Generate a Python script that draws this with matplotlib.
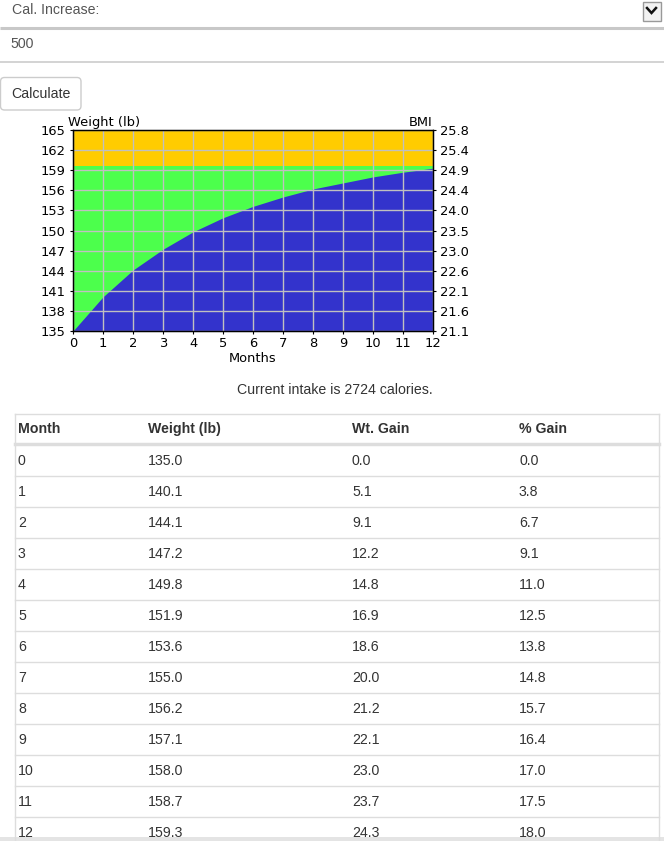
import matplotlib
matplotlib.use("Agg")
import matplotlib.pyplot as plt
from matplotlib.patches import Rectangle, FancyBboxPatch

# ---- data ----
months = [0, 1, 2, 3, 4, 5, 6, 7, 8, 9, 10, 11, 12]
weight = [135.0, 140.1, 144.1, 147.2, 149.8, 151.9, 153.6, 155.0, 156.2, 157.1, 158.0, 158.7, 159.3]
wt_gain = [0.0, 5.1, 9.1, 12.2, 14.8, 16.9, 18.6, 20.0, 21.2, 22.1, 23.0, 23.7, 24.3]
pct_gain = [0.0, 3.8, 6.7, 9.1, 11.0, 12.5, 13.8, 14.8, 15.7, 16.4, 17.0, 17.5, 18.0]
weight_ticks = [135, 138, 141, 144, 147, 150, 153, 156, 159, 162, 165]
bmi_labels = ["21.1", "21.6", "22.1", "22.6", "23.0", "23.5", "24.0", "24.4", "24.9", "25.4", "25.8"]
overweight_limit = 159.6
headers = ["Month", "Weight (lb)", "Wt. Gain", "% Gain"]
cal_increase = "500"
intake_text = "Current intake is 2724 calories."

W, H = 664, 841
fig = plt.figure(figsize=(W / 100, H / 100), dpi=100)

# page layer in pixel coordinates
page = fig.add_axes([0, 0, 1, 1])
page.set_xlim(0, W)
page.set_ylim(H, 0)
page.axis("off")

SANS = ["Liberation Sans", "DejaVu Sans"]
txt = "#333333"
fs = 10.2

# select row
page.text(12, 10, "Cal. Increase:", fontsize=fs, family=SANS, color="#555555", va="center")
page.plot([0, W], [27.5, 27.5], color="#c8c8c8", lw=2.2, solid_capstyle="butt")
page.add_patch(Rectangle((642.5, 1.5), 18, 19, facecolor="#f2f2f2", edgecolor="#999999", lw=1))
page.plot([647, 651.5, 656], [8, 13, 8], color="#111111", lw=1.8, solid_joinstyle="miter")

# input row
page.text(10, 44, cal_increase, fontsize=fs, family=SANS, color="#555555", va="center")
page.plot([0, W], [61.5, 61.5], color="#cccccc", lw=1.2)

# button
page.add_patch(FancyBboxPatch((0.5, 77.5), 80.5, 32.5, boxstyle="round,pad=0,rounding_size=4",
                              facecolor="white", edgecolor="#cccccc", lw=1))
page.text(11, 93.5, "Calculate", fontsize=fs, family=SANS, color=txt, va="center")

# intake text
page.text(335, 390, intake_text, fontsize=fs, family=SANS, color=txt, va="center", ha="center")

# table
tl, tr, tt = 14.5, 658.5, 413.5
row_h = 31
hdr_bottom = 444
first_line = 476
nrows = len(months)
bottom = 841
page.plot([tl, tl], [tt, bottom], color="#dddddd", lw=1)
page.plot([tr, tr], [tt, bottom], color="#dddddd", lw=1)
page.plot([tl, tr], [tt, tt], color="#dddddd", lw=1)
page.plot([tl, tr], [hdr_bottom, hdr_bottom], color="#dddddd", lw=2.5)
for k in range(nrows - 1):
    y = first_line + k * row_h
    page.plot([tl, tr], [y, y], color="#dddddd", lw=1)
col_x = [18, 148, 352, 519]
for cx, h in zip(col_x, headers):
    page.text(cx, 428.5, h, fontsize=fs, family=SANS, color=txt, va="center", weight="bold")
for k in range(nrows):
    yc = 461 + k * row_h
    vals = [str(months[k]), f"{weight[k]:.1f}", f"{wt_gain[k]:.1f}", f"{pct_gain[k]:.1f}"]
    for cx, v in zip(col_x, vals):
        page.text(cx, yc, v, fontsize=fs, family=SANS, color=txt, va="center")
page.add_patch(Rectangle((0, 837), W, 4, facecolor="#e4e4e4", edgecolor="none"))

# ---- chart ----
x0, x1, y0, y1 = 73, 433, 130, 331
tfs = 9.4
ax = fig.add_axes([x0 / W, 1 - y1 / H, (x1 - x0) / W, (y1 - y0) / H])
ax.set_xlim(0, 12)
ax.set_ylim(135, 165)
ax.axhspan(overweight_limit, 165, color="#ffcc00", lw=0, zorder=0)
ax.axhspan(135, overweight_limit, color="#4cff4c", lw=0, zorder=0)
ax.fill_between(months, 135, weight, color="#3333cc", lw=0, zorder=1)
ax.set_xticks(months)
ax.set_yticks(weight_ticks)
ax.grid(True, color="#c0c0c0", lw=1, zorder=2)
ax.set_axisbelow(False)
for s in ax.spines.values():
    s.set_color("black")
    s.set_linewidth(1)
    s.set_zorder(3)
ax.tick_params(axis="y", labelsize=tfs, length=2, pad=3.5, colors="black")
ax.tick_params(axis="x", labelsize=tfs, length=2, pad=2.5, colors="black")
ax.set_xlabel("Months", fontsize=tfs, labelpad=1.5)
ax2 = ax.twinx()
ax2.set_ylim(135, 165)
ax2.set_yticks(weight_ticks)
ax2.set_yticklabels(bmi_labels)
ax2.tick_params(labelsize=tfs, length=2, pad=3)
for s in ax2.spines.values():
    s.set_color("black")
ax.text(-0.013, 1.003, "Weight (lb)", transform=ax.transAxes, fontsize=tfs, ha="left", va="bottom")
ax.text(1.0, 1.003, "BMI", transform=ax.transAxes, fontsize=tfs, ha="right", va="bottom")

fig.savefig("out.png", dpi=100)
